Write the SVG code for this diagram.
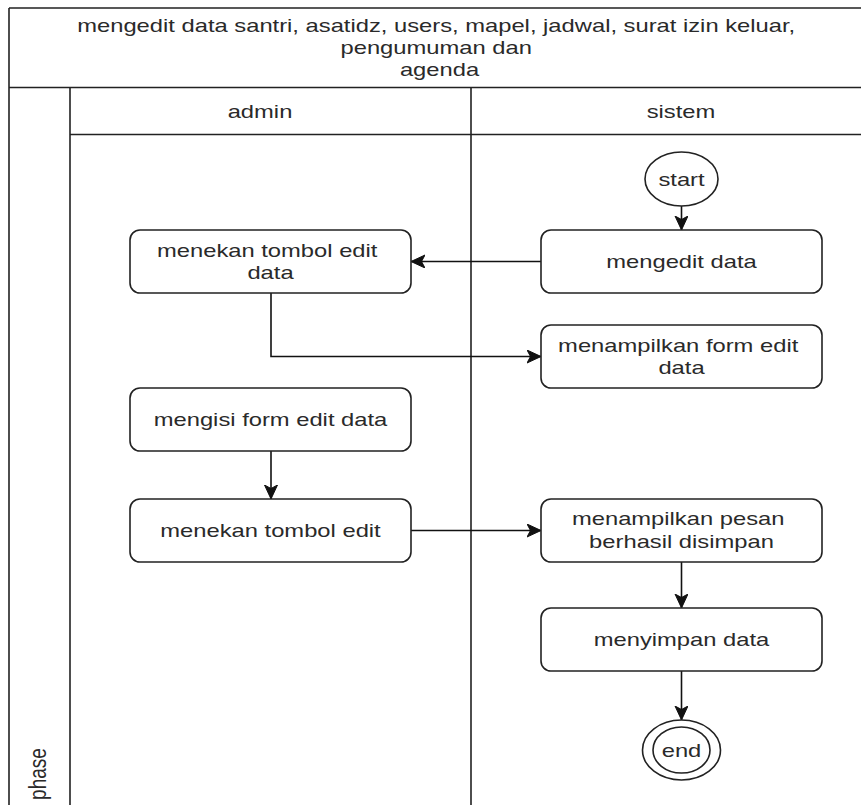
<svg xmlns="http://www.w3.org/2000/svg" width="861" height="805" viewBox="0 0 861 805">
  <style>
    .frame { fill: none; stroke: #222; stroke-width: 1.6; }
    .node { fill: #fff; stroke: #222; stroke-width: 1.6; }
    .lbl { font-family: "Liberation Sans", Arial, Helvetica, sans-serif; font-size: 19px; fill: #2a2a2a; text-anchor: middle; }
    .edge { fill: none; stroke: #111; stroke-width: 1.6; }
  </style>
  <defs>
    <marker id="arr" markerUnits="userSpaceOnUse" markerWidth="16" markerHeight="14" refX="14" refY="6.5" orient="auto">
      <path d="M0,0 L14,6.5 L0,13 L3.5,6.5 Z" fill="#111" stroke="#111" stroke-width="1"/>
    </marker>
  </defs>
  <rect x="0" y="0" width="861" height="805" fill="#fff"/>

  <g id="pool">
    <path class="frame" d="M9,8 H880 M9,8 V820 M9,87.5 H880 M70,87.5 V820 M70,134.5 H880 M471,87.5 V820"/>
    <text class="lbl" transform="translate(439.5,31.5) scale(1.25,1)">
      <tspan x="0" y="0">mengedit data santri, asatidz, users, mapel, jadwal, surat izin keluar,</tspan>
      <tspan x="0" y="22.5">pengumuman dan</tspan>
      <tspan x="0" y="45">agenda</tspan>
    </text>
  </g>
  <g id="lane-admin">
    <text class="lbl" transform="translate(260,118) scale(1.25,1)">admin</text>
  </g>
  <g id="lane-sistem">
    <text class="lbl" transform="translate(681,118) scale(1.25,1)">sistem</text>
  </g>
  <g id="phase">
    <text class="lbl" transform="translate(46,774) scale(1.25,1) rotate(-90)">phase</text>
  </g>

  <g id="connectors">
    <path class="edge" marker-end="url(#arr)" d="M681.5,206 V230"/>
    <path class="edge" marker-end="url(#arr)" d="M541,261.5 H411"/>
    <path class="edge" marker-end="url(#arr)" d="M271,293 V356.5 H541"/>
    <path class="edge" marker-end="url(#arr)" d="M271,451 V499"/>
    <path class="edge" marker-end="url(#arr)" d="M411,530.5 H541"/>
    <path class="edge" marker-end="url(#arr)" d="M681.5,562 V608"/>
    <path class="edge" marker-end="url(#arr)" d="M681.5,671 V720"/>
  </g>

  <g id="start">
    <ellipse class="node" cx="681.5" cy="179" rx="36.5" ry="27"/>
    <text class="lbl" transform="translate(681.5,185.5) scale(1.25,1)">start</text>
  </g>
  <g id="mengedit-data">
    <rect class="node" x="541" y="230" width="281" height="63" rx="10" ry="10"/>
    <text class="lbl" transform="translate(681.5,268) scale(1.25,1)">mengedit data</text>
  </g>
  <g id="menekan-tombol-edit-data">
    <rect class="node" x="130" y="230" width="281" height="63" rx="10" ry="10"/>
    <text class="lbl" transform="translate(270.5,256.5) scale(1.25,1)">
      <tspan x="0" y="0">menekan tombol edit</tspan>
      <tspan x="0" y="23">data</tspan>
    </text>
  </g>
  <g id="menampilkan-form-edit-data">
    <rect class="node" x="541" y="325" width="281" height="63" rx="10" ry="10"/>
    <text class="lbl" transform="translate(681.5,351.5) scale(1.25,1)">
      <tspan x="0" y="0">menampilkan form edit</tspan>
      <tspan x="0" y="23">data</tspan>
    </text>
  </g>
  <g id="mengisi-form-edit-data">
    <rect class="node" x="130" y="388" width="281" height="63" rx="10" ry="10"/>
    <text class="lbl" transform="translate(270.5,426) scale(1.25,1)">mengisi form edit data</text>
  </g>
  <g id="menekan-tombol-edit">
    <rect class="node" x="130" y="499" width="281" height="63" rx="10" ry="10"/>
    <text class="lbl" transform="translate(270.5,537) scale(1.25,1)">menekan tombol edit</text>
  </g>
  <g id="menampilkan-pesan">
    <rect class="node" x="541" y="499" width="281" height="63" rx="10" ry="10"/>
    <text class="lbl" transform="translate(681.5,525) scale(1.25,1)">
      <tspan x="0" y="0">menampilkan pesan</tspan>
      <tspan x="0" y="23">berhasil disimpan</tspan>
    </text>
  </g>
  <g id="menyimpan-data">
    <rect class="node" x="541" y="608" width="281" height="63" rx="10" ry="10"/>
    <text class="lbl" transform="translate(681.5,646) scale(1.25,1)">menyimpan data</text>
  </g>
  <g id="end">
    <ellipse class="node" cx="681.5" cy="750" rx="39" ry="30"/>
    <ellipse class="node" cx="681.5" cy="750" rx="28.5" ry="23"/>
    <text class="lbl" transform="translate(681.5,756.5) scale(1.25,1)">end</text>
  </g>
</svg>
